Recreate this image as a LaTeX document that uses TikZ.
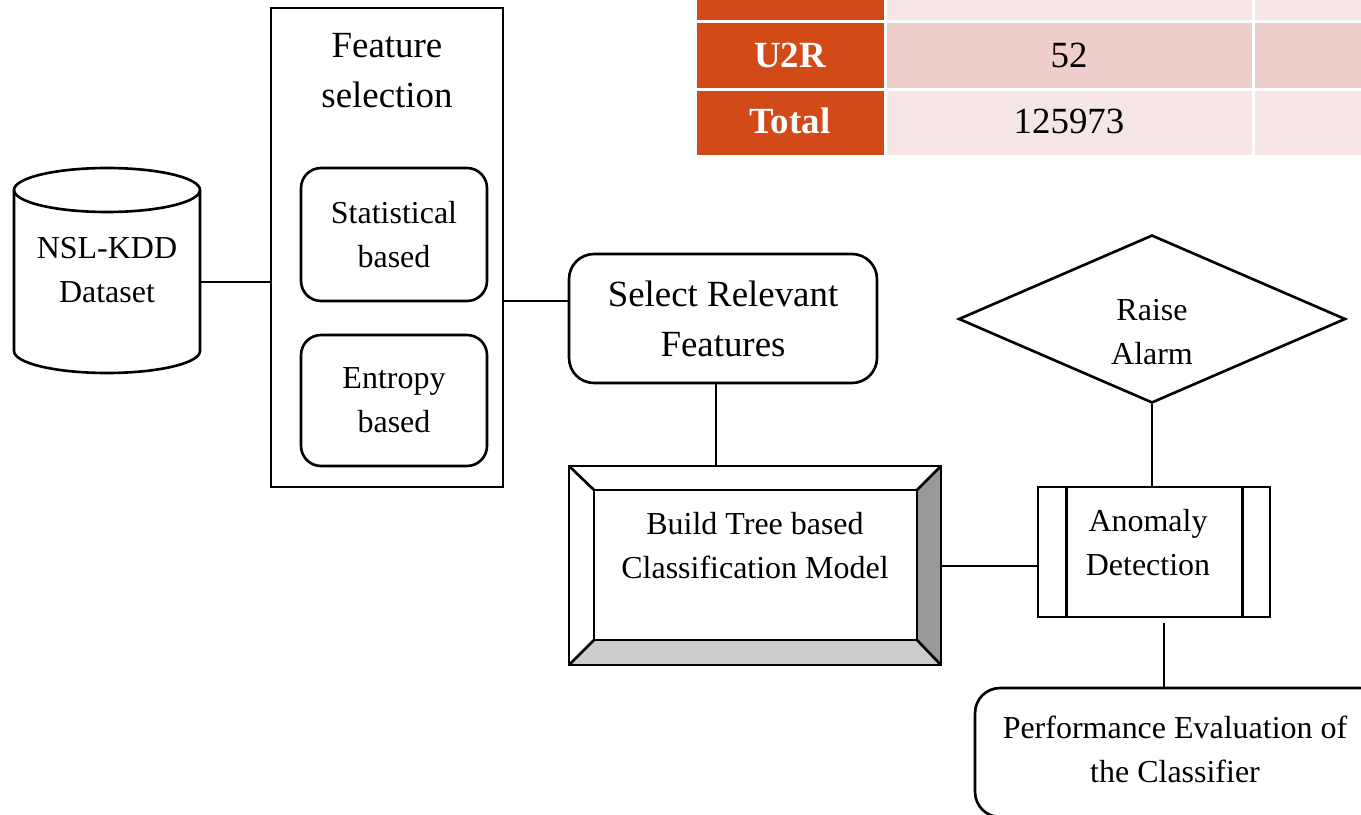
\documentclass[tikz,border=0pt]{standalone}
\usepackage{fontspec}
\setmainfont{Liberation Serif}
\usetikzlibrary{shapes.geometric}

\definecolor{tblorange}{RGB}{210,74,24}
\definecolor{tblpink}{RGB}{238,207,204}
\definecolor{tbllight}{RGB}{246,231,230}
\newcommand{\txtsmall}{\fontsize{18.2}{25}\selectfont}
\newcommand{\txtbig}{\fontsize{21}{28.5}\selectfont}

\begin{document}
\begin{tikzpicture}[x=0.02cm, y=-0.02cm, line width=1.5pt,
    txt/.style={align=center, font=\txtsmall, inner sep=0pt},
    rbox/.style={draw, rounded corners=0.4cm, inner sep=0pt, align=center},
    tblhead/.style={font=\txtbig\bfseries, text=white, inner sep=0pt},
    tblcell/.style={font=\txtbig, inner sep=0pt}]
    \useasboundingbox (0,0) rectangle (1361,814);
    \clip (0,0) rectangle (1361,814);
    %\draw [very thin,gray,dashed] (0,0) grid[step=1cm] (1361,814);
    \fill [tblorange] (697,-5) rectangle (884,20);
    \fill [tbllight] (887,-5) rectangle (1252,20);
    \fill [tbllight] (1255,-5) rectangle (1370,20);
    \fill [tblorange] (697,23) rectangle (884,88);
    \fill [tblpink] (887,23) rectangle (1252,88);
    \fill [tblpink] (1255,23) rectangle (1370,88);
    \fill [tblorange] (697,91) rectangle (884,155);
    \fill [tbllight] (887,91) rectangle (1252,155);
    \fill [tbllight] (1255,91) rectangle (1370,155);
    \node[tblhead] (u2r) at (790,55) {U2R};
    \node[tblhead] (total) at (790,121) {Total};
    \node[tblcell] (nu2r) at (1069,55) {52};
    \node[tblcell] (ntotal) at (1069,121) {125973};
    \node[txt, minimum width=3.72cm, minimum height=4.1cm] (data) at (107,270) {NSL-KDD\\Dataset};
    \draw (14,190) -- (14,351) arc[start angle=180, end angle=360, x radius=1.86cm, y radius=0.44cm] -- (200,190);
    \draw (107,190) ellipse [x radius=1.86cm, y radius=0.44cm];
    \node[draw, minimum width=4.64cm, minimum height=9.58cm] (feat) at (387,247.5) {};
    \node[txt, font=\txtbig] (feattitle) at (387,70.5) {Feature\\selection};
    \node[rbox, font=\txtsmall, minimum width=3.72cm, minimum height=2.66cm] (stat) at (394,234.5) {Statistical\\based};
    \node[rbox, font=\txtsmall, minimum width=3.72cm, minimum height=2.62cm] (entr) at (394,400.5) {Entropy\\based};
    \node[rbox, rounded corners=0.5cm, font=\txtbig, minimum width=6.16cm, minimum height=2.58cm] (sel) at (723,318.5) {Select Relevant\\Features};
    \node[outer sep=0pt, minimum width=7.44cm, minimum height=3.98cm] (build) at (755,565.5) {};
    \fill [black!40] (build.north east) -- (build.south east) -- ([shift={(-24,-25)}]build.south east) -- ([shift={(-24,24)}]build.north east) -- cycle;
    \fill [black!20] (build.south west) -- (build.south east) -- ([shift={(-24,-25)}]build.south east) -- ([shift={(25,-25)}]build.south west) -- cycle;
    \draw (build.north west) rectangle (build.south east);
    \draw ([shift={(25,24)}]build.north west) rectangle ([shift={(-24,-25)}]build.south east);
    \draw (build.north west) -- ++(25,24);
    \draw (build.north east) -- ++(-24,24);
    \draw (build.south west) -- ++(25,-25);
    \draw (build.south east) -- ++(-24,-25);
    \node[txt] (buildtxt) at (755,546) {Build Tree based\\Classification Model};
    \node[draw, minimum width=4.64cm, minimum height=2.6cm] (anom) at (1154,552) {};
    \draw ([shift={(30,0)}]anom.north west) -- ([shift={(30,0)}]anom.south west);
    \draw ([shift={(-29,0)}]anom.north east) -- ([shift={(-29,0)}]anom.south east);
    \node[txt] (anomtxt) at (1148,543) {Anomaly\\Detection};
    \node[diamond, draw, minimum width=7.74cm, minimum height=3.36cm, inner sep=0pt] (alarm) at (1152,319) {};
    \node[txt] (alarmtxt) at (1152,332) {Raise\\Alarm};
    \node[rbox, rounded corners=0.5cm, minimum width=8.2cm, minimum height=2.58cm] (perf) at (1180,752.5) {};
    \node[txt] (perftxt) at (1175,749) {Performance Evaluation of\\the Classifier};
    \draw (data.east |- 0,282) -- (feat.west |- 0,282);
    \draw (feat.east |- 0,301) -- (sel.west |- 0,301);
    \draw (sel.south -| 716,0) -- (build.north -| 716,0);
    \draw (build.east |- 0,566) -- (anom.west |- 0,566);
    \draw (anom.north -| 1152,0) -- (alarm.south);
    \draw [shorten <=0.1cm] (anom.south -| 1164,0) -- (perf.north -| 1164,0);
\end{tikzpicture}
\end{document}
